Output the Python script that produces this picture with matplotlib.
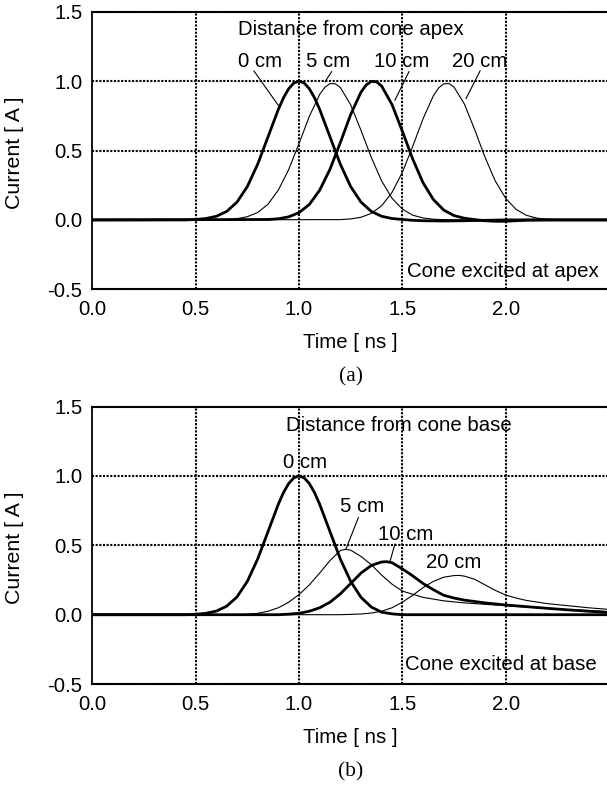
import matplotlib
matplotlib.use("Agg")
import matplotlib.pyplot as plt

plt.rcParams['font.family'] = ['Liberation Sans', 'DejaVu Sans']

# ---------------- Data: panel (a) cone excited at apex ----------------
t0a = [0.0, 0.45, 0.5, 0.55, 0.6, 0.65, 0.7, 0.75, 0.8, 0.85, 0.9, 0.925, 0.95, 0.975, 1.0,
       1.025, 1.05, 1.075, 1.1, 1.15, 1.2, 1.25, 1.3, 1.35, 1.4, 1.45, 1.5, 1.55, 1.6, 1.7,
       1.8, 1.9, 2.0, 2.5]
i0a = [0, 0, 0.003, 0.01, 0.026, 0.061, 0.128, 0.24, 0.401, 0.598, 0.796, 0.88, 0.945, 0.986, 1.0,
       0.986, 0.945, 0.88, 0.796, 0.598, 0.401, 0.24, 0.128, 0.061, 0.026, 0.01, 0.003, -0.003, -0.006, -0.008,
       -0.006, -0.003, 0, 0]

t5a = [0.0, 0.6, 0.65, 0.7, 0.75, 0.8, 0.85, 0.9, 0.95, 1.0, 1.05, 1.1, 1.125, 1.15, 1.175, 1.2,
       1.25, 1.3, 1.35, 1.4, 1.45, 1.5, 1.55, 1.6, 1.65, 1.7, 1.8, 2.0, 2.2, 2.5]
i5a = [0, 0.001, 0.003, 0.009, 0.023, 0.053, 0.113, 0.215, 0.362, 0.55, 0.746, 0.904, 0.955, 0.982, 0.981, 0.954,
       0.829, 0.645, 0.449, 0.28, 0.156, 0.078, 0.034, 0.014, 0.005, 0.002, 0, 0, 0, 0]

t10a = [0.0, 0.85, 0.9, 0.95, 1.0, 1.05, 1.1, 1.15, 1.2, 1.25, 1.3, 1.325, 1.35, 1.375, 1.4, 1.45,
        1.5, 1.55, 1.6, 1.65, 1.7, 1.75, 1.8, 1.85, 1.9, 1.95, 2.0, 2.05, 2.1, 2.2, 2.5]
i10a = [0, 0.003, 0.008, 0.022, 0.052, 0.111, 0.214, 0.365, 0.557, 0.759, 0.921, 0.972, 0.998, 0.995, 0.964, 0.831,
        0.639, 0.439, 0.268, 0.147, 0.071, 0.031, 0.012, 0.002, -0.006, -0.01, -0.01, -0.006, -0.002, 0, 0]

t20a = [0.0, 1.2, 1.25, 1.3, 1.35, 1.4, 1.45, 1.5, 1.55, 1.6, 1.65, 1.675, 1.7, 1.725, 1.75, 1.8,
        1.85, 1.9, 1.95, 2.0, 2.05, 2.1, 2.15, 2.2, 2.25, 2.3, 2.4, 2.5]
i20a = [0, 0.002, 0.007, 0.019, 0.047, 0.102, 0.198, 0.343, 0.529, 0.728, 0.894, 0.95, 0.98, 0.983, 0.957, 0.835,
        0.65, 0.451, 0.279, 0.155, 0.076, 0.033, 0.013, 0.005, 0.002, -0.004, -0.003, 0]

# ---------------- Data: panel (b) cone excited at base ----------------
t0b = [0.0, 0.45, 0.5, 0.55, 0.6, 0.65, 0.7, 0.75, 0.8, 0.85, 0.9, 0.925, 0.95, 0.975, 1.0,
       1.025, 1.05, 1.075, 1.1, 1.15, 1.2, 1.25, 1.3, 1.35, 1.4, 1.45, 1.5, 2.5]
i0b = [0, 0, 0.003, 0.01, 0.026, 0.061, 0.128, 0.24, 0.401, 0.598, 0.796, 0.88, 0.945, 0.986, 1.0,
       0.986, 0.945, 0.88, 0.796, 0.598, 0.401, 0.24, 0.125, 0.055, 0.018, 0.006, 0, 0]

t5b = [0.0, 0.7, 0.75, 0.8, 0.85, 0.9, 0.95, 1.0, 1.05, 1.1, 1.15, 1.2, 1.225, 1.25, 1.3, 1.35,
       1.4, 1.45, 1.5, 1.6, 1.7, 1.8, 1.9, 2.0, 2.1, 2.2, 2.3, 2.4, 2.5]
i5b = [0, 0, 0.003, 0.01, 0.025, 0.05, 0.09, 0.145, 0.215, 0.3, 0.39, 0.462, 0.471, 0.465, 0.42, 0.36,
       0.285, 0.22, 0.17, 0.125, 0.1, 0.085, 0.075, 0.065, 0.055, 0.045, 0.037, 0.03, 0.022]

t10b = [0.0, 0.9, 0.95, 1.0, 1.05, 1.1, 1.15, 1.2, 1.25, 1.3, 1.35, 1.4, 1.425, 1.45, 1.5, 1.55,
        1.6, 1.65, 1.7, 1.75, 1.8, 1.9, 2.0, 2.1, 2.2, 2.3, 2.4, 2.5]
i10b = [0, 0, 0.004, 0.01, 0.025, 0.05, 0.09, 0.15, 0.225, 0.3, 0.355, 0.38, 0.382, 0.375, 0.33, 0.28,
        0.225, 0.18, 0.14, 0.12, 0.105, 0.085, 0.07, 0.058, 0.046, 0.035, 0.025, 0.016]

t20b = [0.0, 1.2, 1.3, 1.35, 1.4, 1.45, 1.5, 1.55, 1.6, 1.65, 1.7, 1.75, 1.775, 1.8, 1.85, 1.9,
        1.95, 2.0, 2.05, 2.1, 2.2, 2.3, 2.4, 2.5]
i20b = [0, 0, 0.005, 0.012, 0.025, 0.05, 0.09, 0.14, 0.195, 0.24, 0.27, 0.282, 0.283, 0.278, 0.255, 0.215,
        0.175, 0.142, 0.12, 0.103, 0.08, 0.065, 0.05, 0.038]

labels = ["0 cm", "5 cm", "10 cm", "20 cm"]
xticks = [0.0, 0.5, 1.0, 1.5, 2.0]
yticks = [-0.5, 0.0, 0.5, 1.0, 1.5]

THICK = 2.0
THIN = 0.8
FS = 14.7
DOT = (0, (1, 0.75))

W, H = 607, 788
fig = plt.figure(figsize=(W / 100, H / 100), dpi=100)

px_per_x = 206.7
px_per_y = 138.8
left_px = 92.3

def make_axes(bottom_px):
    ax = fig.add_axes([left_px / W, 1 - bottom_px / H, 2.5 * px_per_x / W, 2.0 * px_per_y / H])
    ax.set_xlim(0, 2.5)
    ax.set_ylim(-0.5, 1.5)
    ax.set_xticks(xticks)
    ax.set_xticklabels([f"{v:.1f}" for v in xticks])
    ax.set_yticks(yticks)
    ax.set_yticklabels([f"{v:.1f}" for v in yticks])
    ax.tick_params(axis='both', length=0, labelsize=FS)
    ax.tick_params(axis='x', pad=8)
    ax.tick_params(axis='y', pad=7)
    for v in [0.5, 1.0, 1.5, 2.0]:
        ax.axvline(v, color='black', lw=1.5, linestyle=DOT, zorder=1)
    for v in [0.5, 1.0]:
        ax.axhline(v, color='black', lw=1.5, linestyle=DOT, zorder=1)
    ax.spines['left'].set_linewidth(1.3)
    ax.spines['right'].set_visible(False)
    for s in ['top', 'bottom']:
        ax.spines[s].set_linestyle(DOT)
        ax.spines[s].set_linewidth(1.5)
    return ax

# ---------------- Panel (a) ----------------
axa = make_axes(289.3)
axa.plot(t0a, i0a, color='black', lw=THICK, zorder=3)
axa.plot(t5a, i5a, color='black', lw=THIN, zorder=3)
axa.plot(t10a, i10a, color='black', lw=THICK, zorder=3)
axa.plot(t20a, i20a, color='black', lw=THIN, zorder=3)

axa.text(0.703, 1.374, "Distance from cone apex", fontsize=FS, ha='left', va='center')
lab_x_a = [0.811, 1.14, 1.498, 1.875]
for lx, lab in zip(lab_x_a, labels):
    axa.text(lx, 1.14, lab, fontsize=FS, ha='center', va='center')
leaders_a = [((0.782, 1.073), (0.902, 0.821)),
             ((1.158, 1.068), (1.126, 0.996)),
             ((1.532, 1.068), (1.464, 0.862)),
             ((1.876, 1.073), (1.808, 0.874))]
for (x1, y1), (x2, y2) in leaders_a:
    axa.plot([x1, x2], [y1, y2], color='black', lw=THIN, zorder=4)
axa.text(2.448, -0.375, "Cone excited at apex", fontsize=FS, ha='right', va='center')

# ---------------- Panel (b) ----------------
axb = make_axes(684.1)
axb.plot(t0b, i0b, color='black', lw=THICK, zorder=3)
axb.plot(t5b, i5b, color='black', lw=THIN, zorder=3)
axb.plot(t10b, i10b, color='black', lw=THICK, zorder=3)
axb.plot(t20b, i20b, color='black', lw=THIN, zorder=3)

axb.text(0.936, 1.366, "Distance from cone base", fontsize=FS, ha='left', va='center')
lab_pos_b = [(1.03, 1.10), (1.305, 0.777), (1.514, 0.578), (1.75, 0.379)]
for (lx, ly), lab in zip(lab_pos_b, labels):
    axb.text(lx, ly, lab, fontsize=FS, ha='center', va='center')
leaders_b = [((1.287, 0.699), (1.227, 0.473)),
             ((1.464, 0.509), (1.44, 0.382))]
for (x1, y1), (x2, y2) in leaders_b:
    axb.plot([x1, x2], [y1, y2], color='black', lw=THIN, zorder=4)
axb.text(2.44, -0.362, "Cone excited at base", fontsize=FS, ha='right', va='center')

# ---------------- Axis labels and captions ----------------
for off, cap in [(0.0, "(a)"), (394.8, "(b)")]:
    fig.text(15 / W, 1 - (152.5 + off) / H, "Current [ A ]", rotation=90,
             fontsize=15.3, ha='center', va='center')
    fig.text(350.6 / W, 1 - (343 + off) / H, "Time [ ns ]", fontsize=FS,
             ha='center', va='center')
    fig.text(350.6 / W, 1 - (377 + off) / H, cap, fontsize=15.5,
             family=['Liberation Serif', 'DejaVu Serif'], ha='center', va='center')

fig.savefig("out.png", dpi=100)
